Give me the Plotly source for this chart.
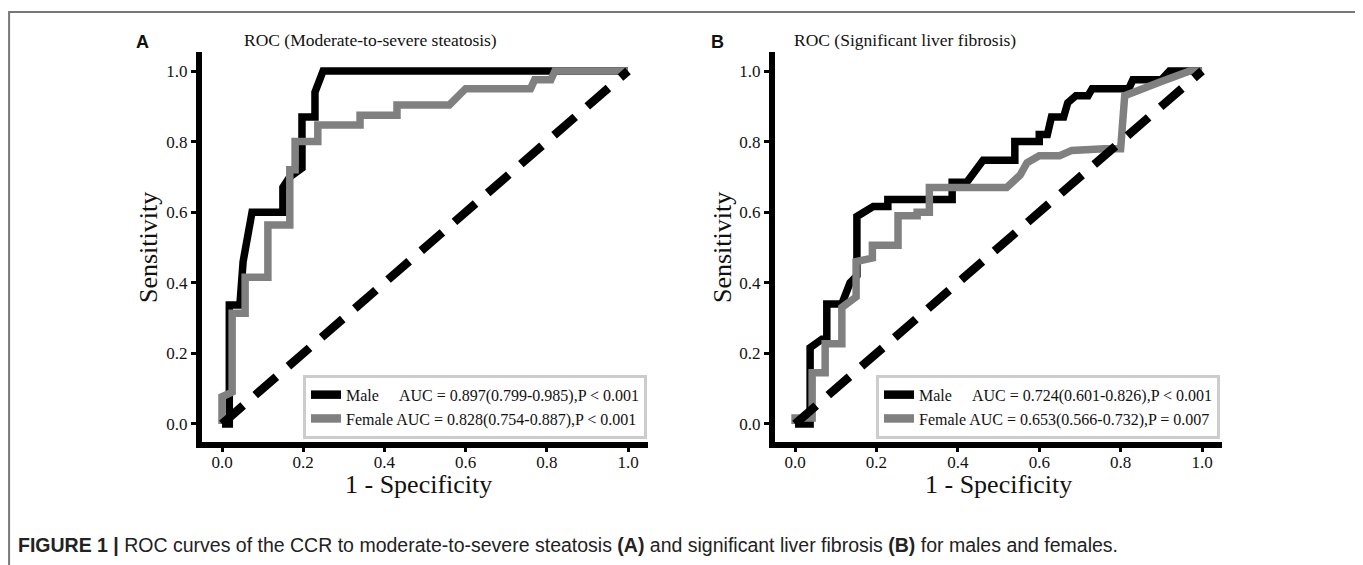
import plotly.graph_objects as go

W, H = 1363, 565

# ---------------- data ----------------
xticks = [0.0, 0.2, 0.4, 0.6, 0.8, 1.0]
yticks = [0.0, 0.2, 0.4, 0.6, 0.8, 1.0]

# Panel A: moderate-to-severe steatosis
a_male_fpr = [0.0, 0.018, 0.018, 0.044, 0.052, 0.074, 0.150, 0.150, 0.167, 0.197, 0.197, 0.229, 0.229, 0.249, 1.0]
a_male_tpr = [0.0, 0.0, 0.337, 0.337, 0.46, 0.60, 0.60, 0.67, 0.70, 0.725, 0.87, 0.87, 0.94, 1.0, 1.0]
a_female_fpr = [0.0, 0.0, 0.025, 0.025, 0.057, 0.057, 0.113, 0.113, 0.167, 0.167, 0.18, 0.18, 0.236, 0.236,
                0.34, 0.34, 0.431, 0.431, 0.56, 0.58, 0.60, 0.76, 0.77, 0.81, 0.82, 1.0]
a_female_tpr = [0.0, 0.077, 0.09, 0.314, 0.314, 0.416, 0.416, 0.564, 0.564, 0.72, 0.72, 0.80, 0.80, 0.847,
                0.847, 0.875, 0.875, 0.904, 0.904, 0.93, 0.95, 0.95, 0.975, 0.975, 1.0, 1.0]

# Panel B: significant liver fibrosis
b_male_fpr = [0.0, 0.037, 0.037, 0.066, 0.078, 0.078, 0.115, 0.135, 0.152, 0.152, 0.192, 0.228, 0.228, 0.386,
              0.386, 0.422, 0.462, 0.54, 0.54, 0.60, 0.60, 0.62, 0.63, 0.66, 0.67, 0.69, 0.72, 0.73, 0.82,
              0.83, 0.90, 0.92, 1.0]
b_male_tpr = [0.0, 0.0, 0.216, 0.24, 0.24, 0.34, 0.34, 0.40, 0.42, 0.588, 0.616, 0.616, 0.636, 0.636,
              0.685, 0.685, 0.747, 0.747, 0.80, 0.80, 0.82, 0.82, 0.87, 0.87, 0.91, 0.93, 0.93, 0.95, 0.95,
              0.975, 0.975, 1.0, 1.0]
b_female_fpr = [0.0, 0.0, 0.042, 0.042, 0.074, 0.074, 0.115, 0.115, 0.15, 0.15, 0.19, 0.19, 0.253, 0.253,
                0.30, 0.30, 0.33, 0.33, 0.52, 0.553, 0.57, 0.60, 0.65, 0.68, 0.76, 0.80, 0.81, 0.85, 0.90,
                0.97, 1.0]
b_female_tpr = [0.0, 0.017, 0.017, 0.145, 0.145, 0.227, 0.227, 0.33, 0.36, 0.46, 0.47, 0.506, 0.506, 0.59,
                0.59, 0.60, 0.60, 0.67, 0.67, 0.705, 0.74, 0.76, 0.76, 0.775, 0.78, 0.78, 0.93, 0.95, 0.97,
                1.0, 1.0]

chance_x = [0.0, 1.0]
chance_y = [0.0, 1.0]

a_title = "ROC (Moderate-to-severe steatosis)"
b_title = "ROC (Significant liver fibrosis)"
a_male_label = "Male\u00a0\u00a0\u00a0\u00a0\u00a0AUC = 0.897(0.799-0.985),P &lt; 0.001"
a_female_label = "Female AUC = 0.828(0.754-0.887),P &lt; 0.001"
b_male_label = "Male\u00a0\u00a0\u00a0\u00a0\u00a0AUC = 0.724(0.601-0.826),P &lt; 0.001"
b_female_label = "Female AUC = 0.653(0.566-0.732),P = 0.007"
x_label = "1 - Specificity"
y_label = "Sensitivity"
caption = ("<b>FIGURE 1 |</b> ROC curves of the CCR to moderate-to-severe steatosis <b>(A)</b> and "
           "significant liver fibrosis <b>(B)</b> for males and females.")

# ---------------- styling ----------------
SERIF = "Liberation Serif, Times New Roman, serif"
SANS = "Liberation Sans, Arial, sans-serif"
BLACK = "#000000"
GRAY = "#808080"
LW = 7.5
OFF = 8  # page body margin in the screenshot


def px_x(p):
    return (p - OFF) / W


def px_y(p):
    return 1 - (p - OFF) / H


fig = go.Figure()

panels = [
    ("x", "y", "legend", a_male_fpr, a_male_tpr, a_male_label, a_female_fpr, a_female_tpr, a_female_label),
    ("x2", "y2", "legend2", b_male_fpr, b_male_tpr, b_male_label, b_female_fpr, b_female_tpr, b_female_label),
]
for xa, ya, lg, mx, my, ml, fx, fy, fl in panels:
    fig.add_trace(go.Scatter(x=mx, y=my, mode="lines", name=ml, xaxis=xa, yaxis=ya, legend=lg,
                             legendgroup=xa + "m", showlegend=False,
                             line=dict(color=BLACK, width=LW), hoverinfo="skip"))
    fig.add_trace(go.Scatter(x=fx, y=fy, mode="lines", name=fl, xaxis=xa, yaxis=ya, legend=lg,
                             legendgroup=xa + "f", showlegend=False,
                             line=dict(color=GRAY, width=LW), hoverinfo="skip"))
    fig.add_trace(go.Scatter(x=chance_x, y=chance_y, mode="lines", showlegend=False, xaxis=xa, yaxis=ya,
                             line=dict(color=BLACK, width=8.5, dash="28px,16px"), hoverinfo="skip"))
    # legend entries with a thick block handle (like the reference's legend patches)
    for nm, col, grp in ((ml, BLACK, xa + "m"), (fl, GRAY, xa + "f")):
        fig.add_trace(go.Scatter(x=[None], y=[None], mode="lines", name=nm, xaxis=xa, yaxis=ya, legend=lg,
                                 legendgroup=grp, fill="toself", fillcolor=col,
                                 line=dict(color=col, width=5), hoverinfo="skip"))

ax_common = dict(
    range=[-0.05, 1.05], tickvals=xticks, tickformat=".1f", showgrid=False, zeroline=False,
    showline=True, linecolor=BLACK, linewidth=5.5, ticks="outside", ticklen=5, tickwidth=3,
    tickcolor=BLACK, tickfont=dict(family=SERIF, size=17, color="#111"),
)
ay_common = dict(ax_common)
ay_common.update(range=[-0.05, 1.055], tickvals=yticks)
ax_common["ticklabelstandoff"] = -5

yd = [px_y(441.6), px_y(51.6)]
leg_common = dict(xanchor="right", yanchor="bottom", bgcolor="white", bordercolor="#cccccc",
                  borderwidth=3, font=dict(family=SERIF, size=16, color="#111"), tracegroupgap=0)
fig.update_layout(
    width=W, height=H, margin=dict(l=0, r=0, t=0, b=0),
    paper_bgcolor="white", plot_bgcolor="white",
    xaxis=dict(ax_common, domain=[px_x(201.7), px_x(648.3)], anchor="y"),
    yaxis=dict(ay_common, domain=yd, anchor="x"),
    xaxis2=dict(ax_common, domain=[px_x(774.7), px_x(1222.4)], anchor="y2"),
    yaxis2=dict(ay_common, domain=yd, anchor="x2"),
    legend=dict(leg_common, x=px_x(647), y=px_y(439)),
    legend2=dict(leg_common, x=px_x(1220), y=px_y(439)),
    showlegend=True,
)

texts = [
    ("<b>A</b>", 142, 42, 0, SANS, 18),
    ("<b>B</b>", 717, 42, 0, SANS, 18),
    (a_title, 370, 40, 0, SERIF, 17.5),
    (b_title, 905, 40, 0, SERIF, 17.5),
    (x_label, 418, 484, 0, SERIF, 26),
    (x_label, 998, 484, 0, SERIF, 26),
    (y_label, 148, 248, -90, SERIF, 26),
    (y_label, 722, 248, -90, SERIF, 26),
]
for t, x, y, ang, fam, sz in texts:
    fig.add_annotation(text=t, xref="paper", yref="paper", x=px_x(x), y=px_y(y), textangle=ang,
                       showarrow=False, xanchor="center", yanchor="middle",
                       font=dict(family=fam, size=sz, color="#111"))

fig.add_annotation(text=caption, xref="paper", yref="paper", x=px_x(16), y=px_y(545),
                   xanchor="left", yanchor="middle", showarrow=False,
                   font=dict(family=SANS, size=19.5, color="#222"))

# outer figure frame
fig.add_shape(type="rect", xref="paper", yref="paper", x0=0.0008, x1=px_x(1356), y0=-0.05, y1=px_y(12),
              line=dict(color="#777777", width=2), fillcolor="rgba(0,0,0,0)", layer="below")

fig.write_html("out.html")
